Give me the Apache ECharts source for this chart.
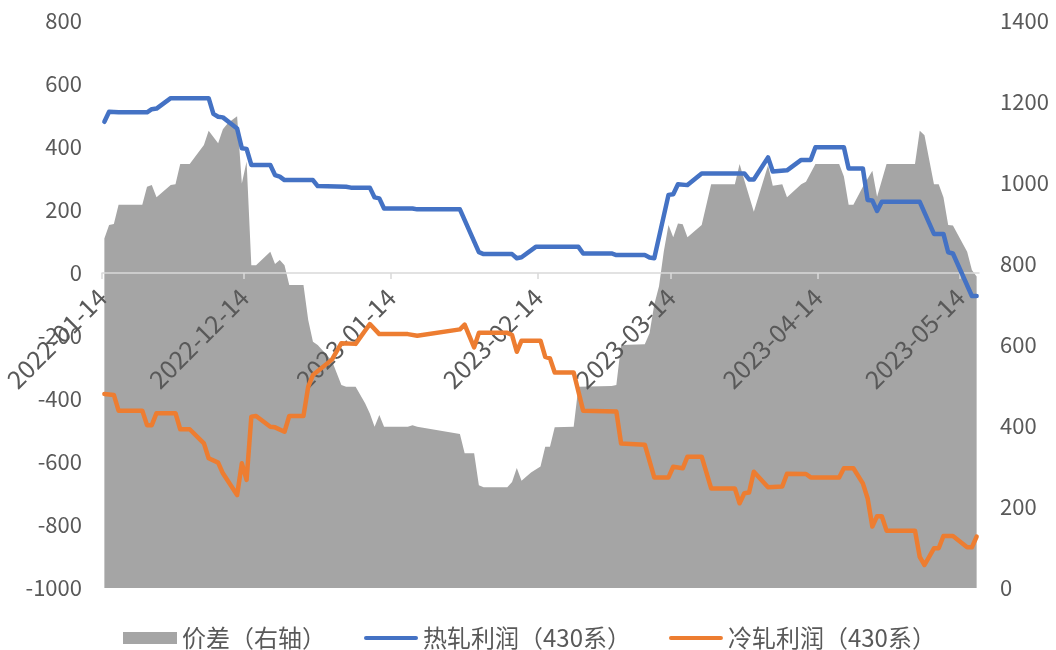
<!DOCTYPE html>
<html>
<head>
<meta charset="utf-8">
<script src="https://cdn.jsdelivr.net/npm/echarts@6/dist/echarts.min.js"></script>
<style>
html,body{margin:0;padding:0;background:#fff;}
#chart{width:1056px;height:650px;}
</style>
</head>
<body>
<div id="chart"></div>
<script>
// Series names
var seriesNames = ['价差（右轴）', '热轧利润（430系）', '冷轧利润（430系）'];

// X-axis tick dates and their printed labels
var tickDates = ['2022-11-14','2022-12-14','2023-01-14','2023-02-14','2023-03-14','2023-04-14','2023-05-14'];
var tickLabels = ['2022-01-14','2022-12-14','2023-01-14','2023-02-14','2023-03-14','2023-04-14','2023-05-14'];

// 价差（右轴）
var spread = [
['2022-11-14',863],['2022-11-15',896],['2022-11-16',899],['2022-11-17',946],['2022-11-22',946],
['2022-11-23',991],['2022-11-24',995],['2022-11-25',965],['2022-11-28',995],['2022-11-29',997],
['2022-11-30',1047],['2022-12-02',1047],['2022-12-05',1094],['2022-12-06',1129],['2022-12-08',1098],
['2022-12-09',1133],['2022-12-10',1147],['2022-12-11',1156],['2022-12-12',1165],['2022-12-13',999],
['2022-12-14',1053],['2022-12-15',797],['2022-12-16',797],['2022-12-19',830],['2022-12-20',800],
['2022-12-21',810],['2022-12-22',797],['2022-12-23',748],['2022-12-26',748],['2022-12-27',662],
['2022-12-28',608],['2022-12-29',600],['2023-01-01',561],['2023-01-03',501],['2023-01-04',497],
['2023-01-06',497],['2023-01-08',456],['2023-01-09',431],['2023-01-10',398],['2023-01-11',427],
['2023-01-12',398],['2023-01-17',398],['2023-01-18',402],['2023-01-19',398],['2023-01-28',380],
['2023-01-29',333],['2023-01-31',333],['2023-02-01',254],['2023-02-02',249],['2023-02-07',249],
['2023-02-08',262],['2023-02-09',296],['2023-02-10',265],['2023-02-12',285],['2023-02-14',300],
['2023-02-15',349],['2023-02-16',349],['2023-02-17',397],['2023-02-21',398],['2023-02-22',497],
['2023-03-01',499],['2023-03-02',501],['2023-03-03',600],['2023-03-08',602],['2023-03-09',629],
['2023-03-10',700],['2023-03-11',745],['2023-03-12',830],['2023-03-13',896],['2023-03-14',866],
['2023-03-15',900],['2023-03-16',898],['2023-03-17',866],['2023-03-20',896],['2023-03-22',997],
['2023-03-27',997],['2023-03-28',1047],['2023-03-29',1007],['2023-03-31',929],['2023-04-03',1044],
['2023-04-04',993],['2023-04-06',997],['2023-04-07',965],['2023-04-10',997],['2023-04-11',1003],
['2023-04-13',1047],['2023-04-18',1047],['2023-04-19',1016],['2023-04-20',946],['2023-04-21',946],
['2023-04-23',991],['2023-04-25',1030],['2023-04-26',966],['2023-04-28',1047],['2023-05-04',1047],
['2023-05-05',1129],['2023-05-06',1118],['2023-05-08',997],['2023-05-09',997],['2023-05-10',965],
['2023-05-11',896],['2023-05-12',895],['2023-05-15',830],['2023-05-16',785],['2023-05-17',769]
];

// 热轧利润（430系）
var hotProfit = [
['2022-11-14',480],['2022-11-15',512],['2022-11-17',510],['2022-11-23',510],['2022-11-24',520],
['2022-11-25',522],['2022-11-28',555],['2022-12-06',555],['2022-12-07',505],['2022-12-08',496],
['2022-12-09',494],['2022-12-12',459],['2022-12-13',396],['2022-12-14',394],['2022-12-15',343],
['2022-12-19',343],['2022-12-20',311],['2022-12-21',306],['2022-12-22',295],['2022-12-28',295],
['2022-12-29',276],['2023-01-04',274],['2023-01-05',271],['2023-01-09',271],['2023-01-10',240],
['2023-01-11',237],['2023-01-12',205],['2023-01-18',205],['2023-01-19',202],['2023-01-28',202],
['2023-02-01',66],['2023-02-02',60],['2023-02-08',60],['2023-02-09',47],['2023-02-10',50],
['2023-02-13',83],['2023-02-22',83],['2023-02-23',62],['2023-03-01',62],['2023-03-02',57],
['2023-03-08',57],['2023-03-09',49],['2023-03-10',47],['2023-03-13',248],['2023-03-14',250],
['2023-03-15',282],['2023-03-17',279],['2023-03-20',316],['2023-03-29',316],['2023-03-30',297],
['2023-03-31',297],['2023-04-03',367],['2023-04-04',322],['2023-04-07',326],['2023-04-10',359],
['2023-04-12',359],['2023-04-13',399],['2023-04-19',399],['2023-04-20',332],['2023-04-23',332],
['2023-04-24',232],['2023-04-25',230],['2023-04-26',197],['2023-04-27',226],['2023-05-05',226],
['2023-05-08',124],['2023-05-10',124],['2023-05-11',66],['2023-05-12',62],['2023-05-16',-73],
['2023-05-17',-73]
];

// 冷轧利润（430系）
var coldProfit = [
['2022-11-14',-384],['2022-11-16',-387],['2022-11-17',-437],['2022-11-22',-437],['2022-11-23',-483],
['2022-11-24',-483],['2022-11-25',-445],['2022-11-29',-445],['2022-11-30',-496],['2022-12-02',-496],
['2022-12-05',-541],['2022-12-06',-588],['2022-12-08',-602],['2022-12-09',-636],['2022-12-12',-705],
['2022-12-13',-604],['2022-12-14',-657],['2022-12-15',-456],['2022-12-16',-454],['2022-12-19',-488],
['2022-12-20',-490],['2022-12-22',-504],['2022-12-23',-454],['2022-12-26',-454],['2022-12-27',-361],
['2022-12-28',-324],['2023-01-01',-275],['2023-01-03',-223],['2023-01-06',-225],['2023-01-09',-162],
['2023-01-11',-194],['2023-01-17',-194],['2023-01-19',-199],['2023-01-28',-179],['2023-01-29',-164],
['2023-01-31',-236],['2023-02-01',-190],['2023-02-07',-190],['2023-02-08',-197],['2023-02-09',-250],
['2023-02-10',-215],['2023-02-14',-215],['2023-02-15',-266],['2023-02-16',-271],['2023-02-17',-316],
['2023-02-21',-316],['2023-02-23',-437],['2023-03-02',-440],['2023-03-03',-541],['2023-03-08',-545],
['2023-03-10',-649],['2023-03-13',-649],['2023-03-14',-615],['2023-03-16',-620],['2023-03-17',-583],
['2023-03-20',-583],['2023-03-22',-684],['2023-03-27',-684],['2023-03-28',-731],['2023-03-29',-699],
['2023-03-30',-697],['2023-03-31',-631],['2023-04-03',-680],['2023-04-06',-678],['2023-04-07',-637],
['2023-04-11',-638],['2023-04-12',-649],['2023-04-18',-649],['2023-04-19',-620],['2023-04-21',-620],
['2023-04-23',-668],['2023-04-24',-715],['2023-04-25',-805],['2023-04-26',-772],['2023-04-27',-772],
['2023-04-28',-818],['2023-05-04',-818],['2023-05-05',-901],['2023-05-06',-927],['2023-05-08',-874],
['2023-05-09',-874],['2023-05-10',-835],['2023-05-12',-835],['2023-05-15',-871],['2023-05-16',-871],
['2023-05-17',-837]
];

var HALF_DAY = 12 * 3600 * 1000;
function ts(d) { return new Date(d + 'T00:00:00').getTime(); }
function toXY(arr) { return arr.map(function (p) { return [ts(p[0]), p[1]]; }); }
// day slots: each date sits at the middle of its day, ticks at day boundaries
var tickValues = tickDates.map(function (d) { return ts(d) - HALF_DAY; });
var xMin = ts('2022-11-14') - HALF_DAY;
var xMax = ts('2023-05-17') + HALF_DAY;

var GRID_TOP = 21, GRID_BOTTOM = 62, CHART_H = 650;
var LEFT_MIN = -1000, LEFT_MAX = 800;
// move the date axis up to the left axis' zero line
var plotH = CHART_H - GRID_TOP - GRID_BOTTOM;
var xAxisOffset = -plotH * (0 - LEFT_MIN) / (LEFT_MAX - LEFT_MIN);

var LINE_ICON = 'path://M2,0 L52,0 A2,2 0 0 1 52,4 L2,4 A2,2 0 0 1 2,0 Z';
var FONT = '"Noto Sans CJK SC", "Noto Sans", sans-serif';
var chart = echarts.init(document.getElementById('chart'), null, {renderer: 'canvas'});
chart.setOption({
  animation: false,
  backgroundColor: '#ffffff',
  textStyle: {fontFamily: FONT},
  grid: {left: 102, right: 77, top: GRID_TOP, bottom: GRID_BOTTOM, containLabel: false, outerBoundsMode: 'none'},
  legend: {
    data: [
      {name: seriesNames[0], icon: 'rect'},
      {name: seriesNames[1], icon: LINE_ICON},
      {name: seriesNames[2], icon: LINE_ICON}
    ],
    left: 118,
    top: 621,
    itemWidth: 54,
    itemHeight: 12,
    itemGap: 38,
    symbolKeepAspect: true,
    textStyle: {color: '#595959', fontSize: 24, fontFamily: FONT}
  },
  xAxis: {
    type: 'value',
    min: xMin,
    max: xMax,
    position: 'bottom',
    offset: xAxisOffset,
    z: 2,
    axisLine: {show: true, onZero: false, lineStyle: {color: '#D9D9D9', width: 1.5}},
    axisTick: {show: true, customValues: tickValues, length: 6, lineStyle: {color: '#D9D9D9', width: 1.5}},
    axisLabel: {
      customValues: tickValues,
      rotate: 45,
      margin: 20,
      color: '#595959',
      fontSize: 25,
      fontFamily: FONT,
      formatter: function (v) {
        var best = 0, bd = Infinity;
        for (var i = 0; i < tickValues.length; i++) {
          var dd = Math.abs(tickValues[i] - v);
          if (dd < bd) { bd = dd; best = i; }
        }
        return tickLabels[best];
      }
    },
    splitLine: {show: false}
  },
  yAxis: [
    {
      type: 'value', min: LEFT_MIN, max: LEFT_MAX, interval: 200,
      axisLine: {show: false}, axisTick: {show: false}, splitLine: {show: false},
      axisLabel: {color: '#595959', fontSize: 22, margin: 20, fontFamily: FONT,
        formatter: function (v) { return String(v); }}
    },
    {
      type: 'value', min: 0, max: 1400, interval: 200, position: 'right',
      axisLine: {show: false}, axisTick: {show: false}, splitLine: {show: false},
      axisLabel: {color: '#595959', fontSize: 22, margin: 21, fontFamily: FONT,
        formatter: function (v) { return String(v); }}
    }
  ],
  series: [
    {
      name: seriesNames[0], type: 'line', yAxisIndex: 1, data: toXY(spread),
      symbol: 'none', z: 1,
      lineStyle: {width: 0, color: '#A5A5A5'},
      itemStyle: {color: '#A5A5A5'},
      areaStyle: {color: '#A5A5A5', opacity: 1}
    },
    {
      name: seriesNames[1], type: 'line', yAxisIndex: 0, data: toXY(hotProfit),
      symbol: 'none', z: 3, symbolKeepAspect: true,
      itemStyle: {color: '#4472C4'},
      lineStyle: {width: 4.5, color: '#4472C4', cap: 'round', join: 'round'}
    },
    {
      name: seriesNames[2], type: 'line', yAxisIndex: 0, data: toXY(coldProfit),
      symbol: 'none', z: 3, symbolKeepAspect: true,
      itemStyle: {color: '#ED7D31'},
      lineStyle: {width: 4.5, color: '#ED7D31', cap: 'round', join: 'round'}
    }
  ]
});
</script>
</body>
</html>
